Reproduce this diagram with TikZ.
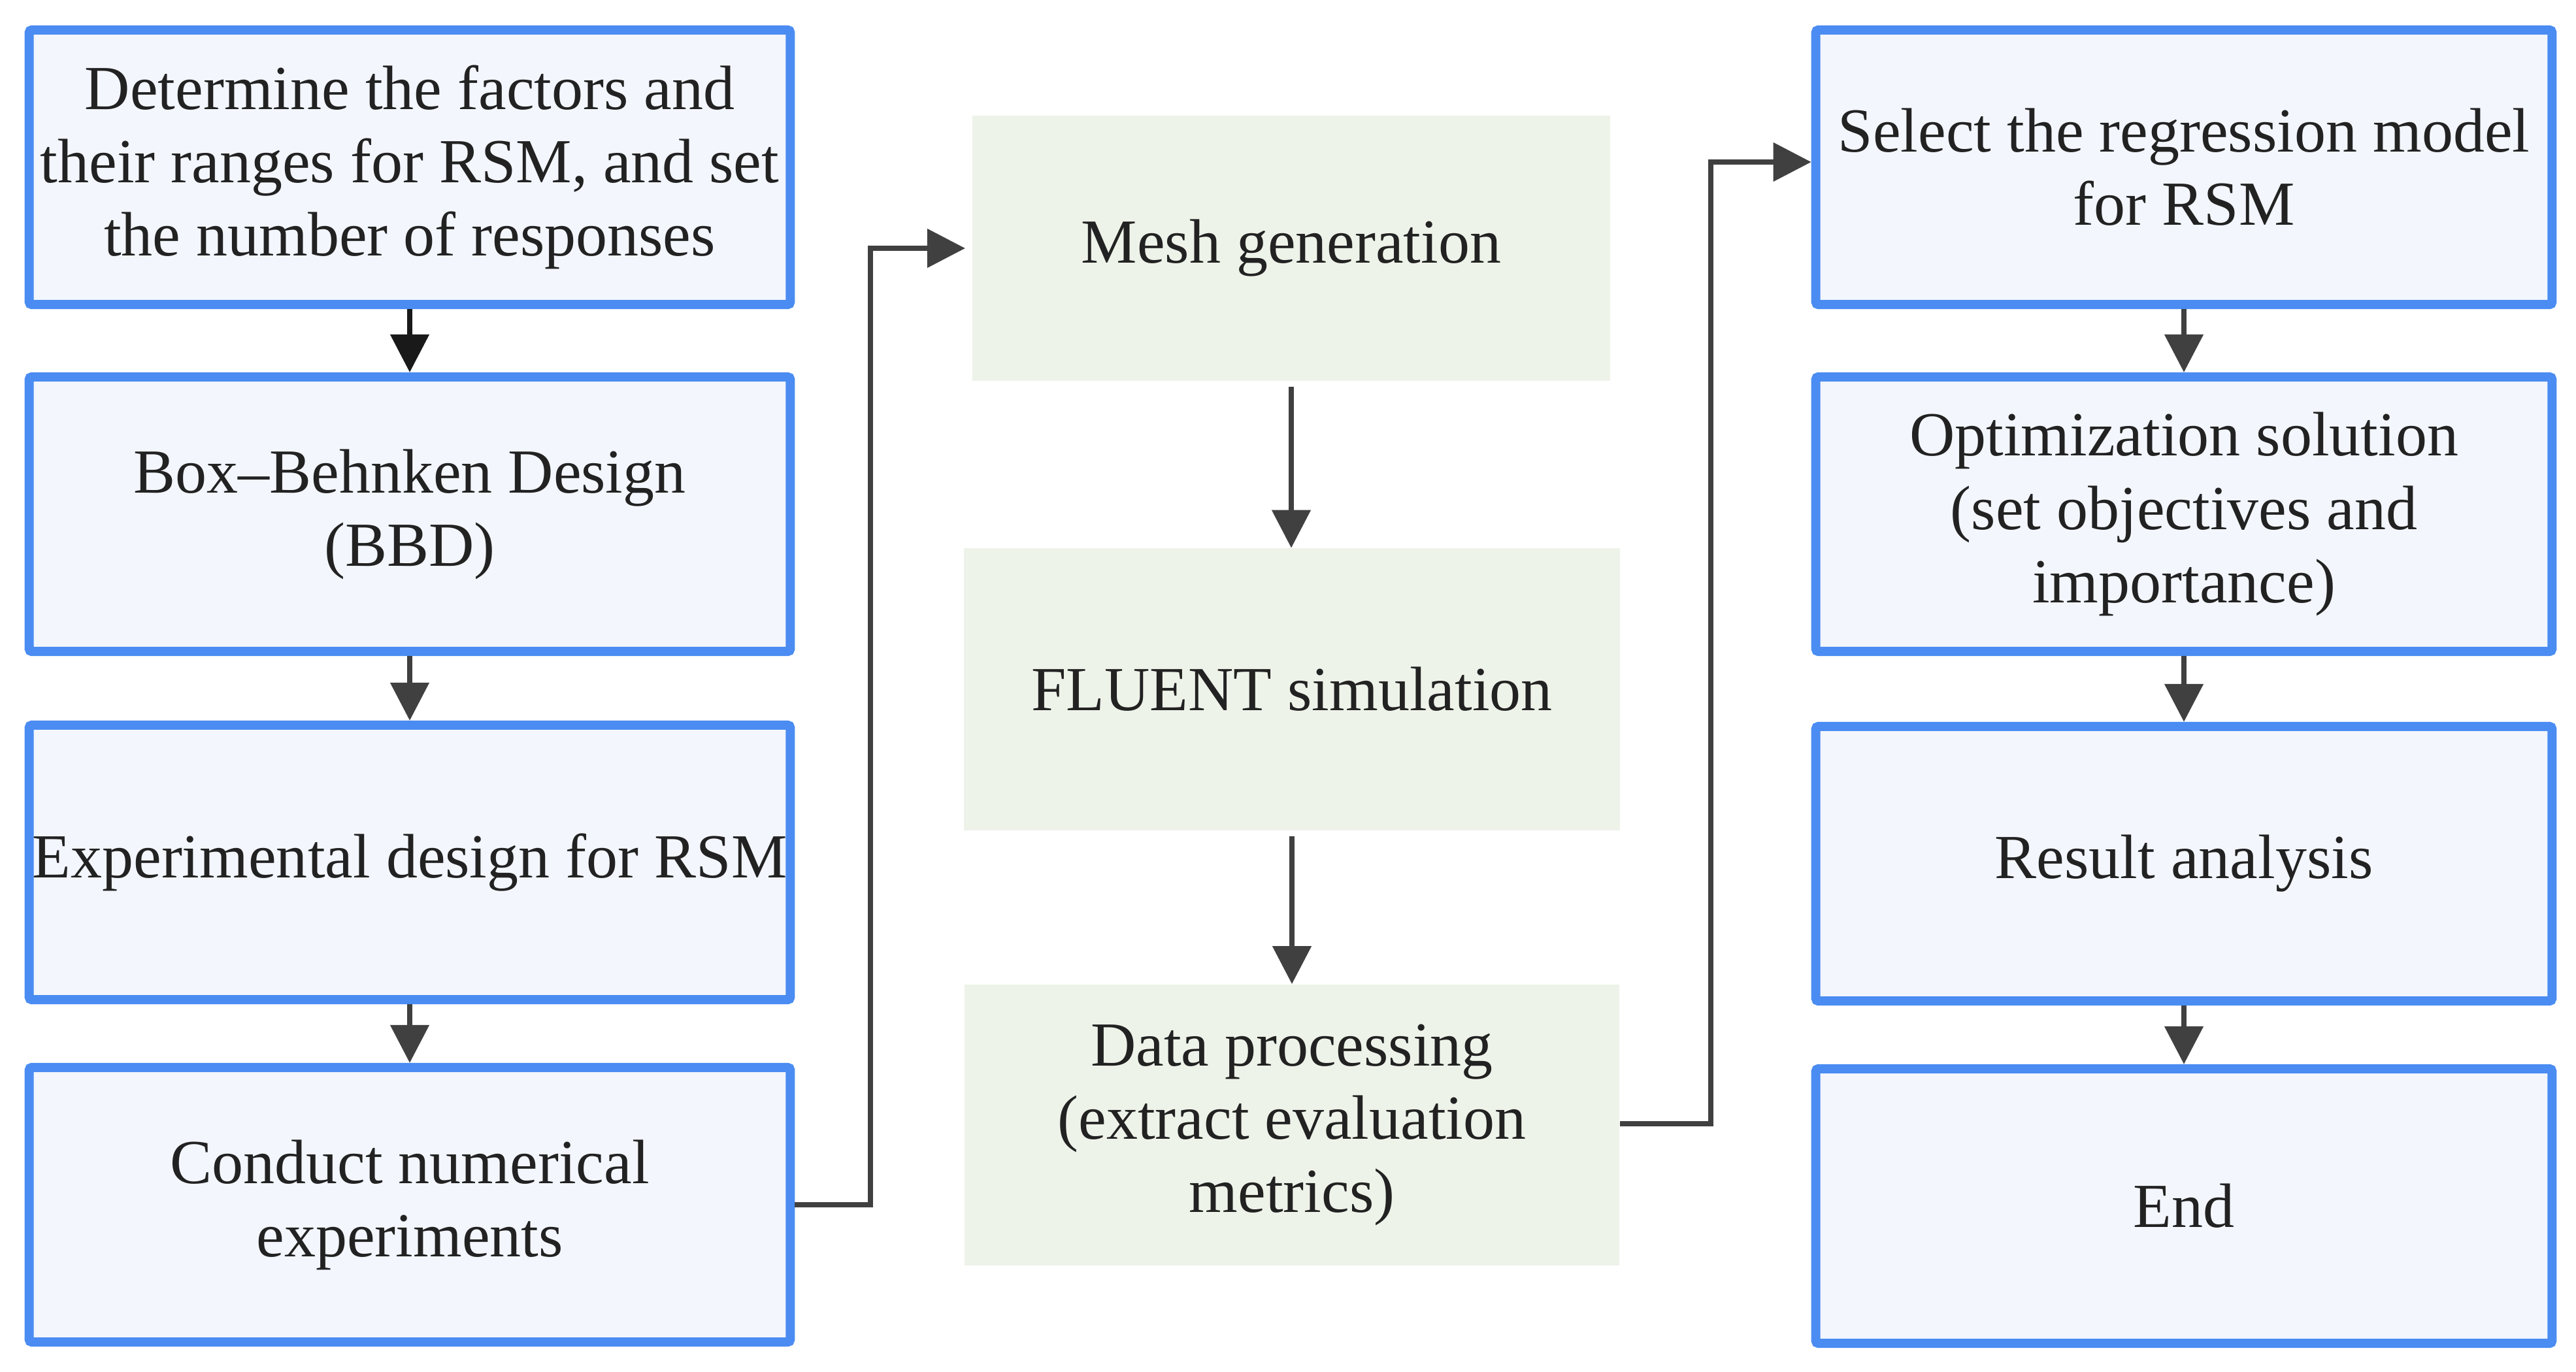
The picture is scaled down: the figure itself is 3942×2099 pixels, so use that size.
\documentclass[tikz,border=0pt]{standalone}
\usepackage{fontspec}
\setmainfont{Liberation Serif}
\usetikzlibrary{arrows.meta}
\definecolor{bord}{HTML}{4A8CF2}
\definecolor{bfill}{HTML}{F3F6FD}
\definecolor{gfill}{HTML}{EEF3E9}
\definecolor{conncol}{HTML}{404040}
\definecolor{txt}{HTML}{222222}
\newcommand\boxfont{\fontsize{27.3pt}{31.9pt}\selectfont}
\begin{document}
\begin{tikzpicture}[x=0.01cm,y=-0.01cm,
  bluebox/.style={draw=bord, fill=bfill, line width=0.14cm, rounded corners=0.04cm,
    minimum height=4.2cm, align=center, inner sep=0pt, text=txt, font=\boxfont},
  leftbox/.style={bluebox, minimum width=11.64cm},
  rightbox/.style={bluebox, minimum width=11.26cm},
  greenbox/.style={fill=gfill, align=center, inner sep=0pt, text=txt, font=\boxfont},
  conn/.style={draw=conncol, line width=0.08cm, -{Triangle[length=0.58cm,width=0.58cm]}},
]
\useasboundingbox (0,0) rectangle (3942,2099);
\fill[white] (0,0) rectangle (3942,2099);

% left column
\node[leftbox] (L1) at (627,256) {Determine the factors and\\their ranges for RSM, and set\\the number of responses};
\node[leftbox] (L2) at (627,787) {Box--Behnken Design\\(BBD)};
\node[leftbox] (L3) at (627,1320) {Experimental design for RSM};
\node[leftbox] (L4) at (627,1844) {Conduct numerical\\experiments};

% middle column
\node[greenbox, minimum width=9.76cm, minimum height=4.05cm] (M) at (1976,380) {Mesh generation};
\node[greenbox, minimum width=10.04cm, minimum height=4.31cm] (F) at (1977,1055) {FLUENT simulation};
\node[greenbox, minimum width=10.02cm, minimum height=4.3cm] (D) at (1977,1722) {Data processing\\(extract evaluation\\metrics)};

% right column
\node[rightbox] (R1) at (3342,256) {Select the regression model\\for RSM};
\node[rightbox] (R2) at (3342,787) {Optimization solution\\(set objectives and\\importance)};
\node[rightbox] (R3) at (3342,1322) {Result analysis};
\node[rightbox] (R4) at (3342,1846) {End};

% connectors
\draw[conn, draw=black!90] (L1) -- (L2);
\draw[conn] (L2) -- (L3);
\draw[conn] (L3) -- (L4);
\coordinate (c1) at (1332,1844);
\draw[conn, shorten >=0.1cm] (L4.east) -- (c1) |- (M.west);
\draw[conn] (M.south) ++(0,9) -- (M.south |- F.north);
\draw[conn] (F.south) ++(0,9) -- (F.south |- D.north);
\coordinate (c2) at (2618,1720);
\draw[conn] (D.east |- c2) -- (c2) |- ([yshift=0.08cm]R1.west);
\draw[conn] (R1) -- (R2);
\draw[conn] (R2) -- (R3);
\draw[conn] (R3) -- (R4);
\end{tikzpicture}
\end{document}
